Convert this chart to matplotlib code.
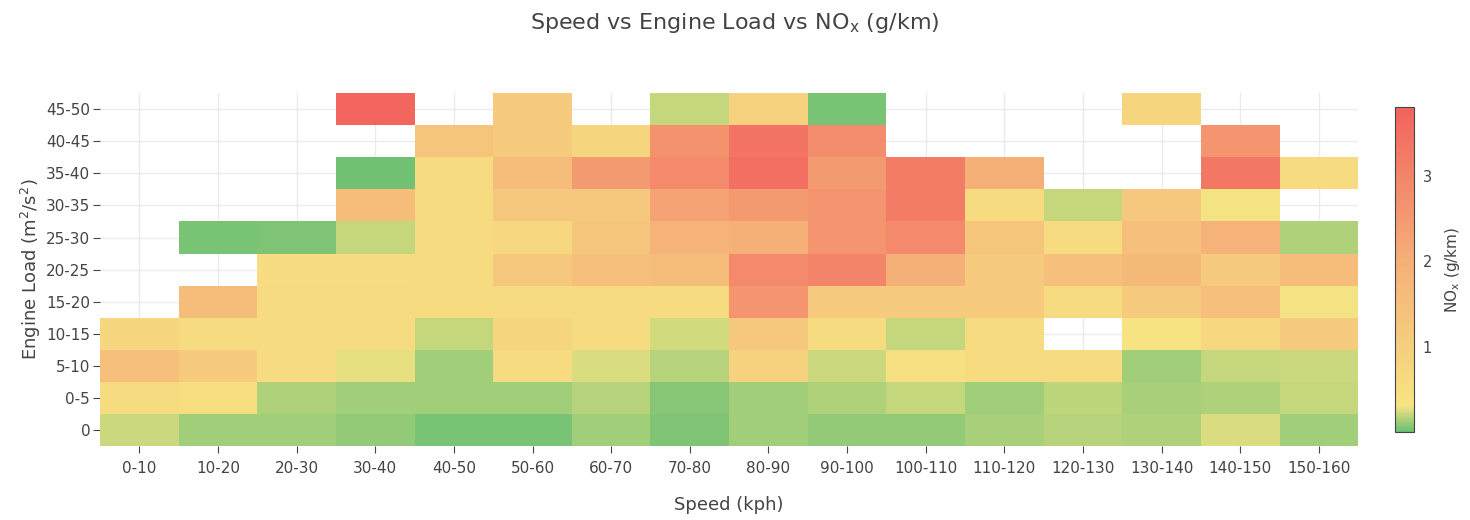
import numpy as np
import matplotlib
matplotlib.use("Agg")
import matplotlib.pyplot as plt
from matplotlib.colors import LinearSegmentedColormap

plt.rcParams['font.family'] = ['DejaVu Sans']

speed_bins = ['0-10', '10-20', '20-30', '30-40', '40-50', '50-60', '60-70', '70-80',
              '80-90', '90-100', '100-110', '110-120', '120-130', '130-140', '140-150', '150-160']
load_bins = ['0', '0-5', '5-10', '10-15', '15-20', '20-25', '25-30', '30-35', '35-40', '40-45', '45-50']

nan = np.nan
# NOx (g/km), one row per engine load bin (bottom to top), one column per speed bin
nox_load_0 = [0.22, 0.12, 0.13, 0.09, 0.04, 0.04, 0.13, 0.05, 0.12, 0.1, 0.1, 0.14, 0.17, 0.16, 0.25, 0.13]
nox_load_0_5 = [0.6, 0.5, 0.15, 0.12, 0.12, 0.12, 0.17, 0.06, 0.12, 0.15, 0.2, 0.12, 0.18, 0.14, 0.15, 0.2]
nox_load_5_10 = [1.5, 1.1, 0.55, 0.27, 0.13, 0.6, 0.25, 0.17, 0.9, 0.22, 0.45, 0.6, 0.6, 0.13, 0.2, 0.22]
nox_load_10_15 = [0.75, 0.6, 0.6, 0.6, 0.2, 0.8, 0.6, 0.23, 1.2, 0.6, 0.2, 0.6, nan, 0.35, 0.7, 1.1]
nox_load_15_20 = [nan, 1.6, 0.6, 0.6, 0.6, 0.6, 0.6, 0.6, 2.6, 1.1, 1.1, 1.1, 0.6, 1.1, 1.5, 0.3]
nox_load_20_25 = [nan, nan, 0.55, 0.55, 0.6, 1.2, 1.5, 1.6, 2.9, 3.0, 2.0, 1.1, 1.5, 1.7, 1.1, 1.6]
nox_load_25_30 = [nan, 0.03, 0.05, 0.2, 0.6, 0.7, 1.3, 1.9, 2.0, 2.6, 2.9, 1.3, 0.6, 1.5, 1.9, 0.15]
nox_load_30_35 = [nan, nan, nan, 1.6, 0.6, 1.2, 1.2, 2.3, 2.5, 2.6, 3.2, 0.6, 0.2, 1.2, 0.3, nan]
nox_load_35_40 = [nan, nan, nan, 0.02, 0.6, 1.6, 2.5, 2.9, 3.5, 2.5, 3.2, 2.0, nan, nan, 3.3, 0.6]
nox_load_40_45 = [nan, nan, nan, nan, 1.3, 1.1, 0.8, 2.7, 3.4, 2.8, nan, nan, nan, nan, 2.6, nan]
nox_load_45_50 = [nan, nan, nan, 3.7, nan, 1.1, nan, 0.2, 0.9, 0.03, nan, nan, nan, 0.8, nan, nan]

nox = np.ma.masked_invalid(np.array([
    nox_load_0, nox_load_0_5, nox_load_5_10, nox_load_10_15, nox_load_15_20, nox_load_20_25,
    nox_load_25_30, nox_load_30_35, nox_load_35_40, nox_load_40_45, nox_load_45_50]))

cmap = LinearSegmentedColormap.from_list('nox', [
    (0.0, '#6abf72'), (0.08, '#f7e482'), (0.53, '#f5af78'), (1.0, '#f2625e')])

fig = plt.figure(figsize=(14.7, 5.2), dpi=100)
ax = fig.add_axes([0.068, 0.142, 0.856, 0.679])
mesh = ax.pcolormesh(np.arange(len(speed_bins) + 1) - 0.5, np.arange(len(load_bins) + 1) - 0.5,
                     nox, cmap=cmap, vmin=0, vmax=3.8)

ax.set_xticks(range(len(speed_bins)))
ax.set_xticklabels(speed_bins)
ax.set_yticks(range(len(load_bins)))
ax.set_yticklabels(load_bins)
ax.set_axisbelow(True)
ax.grid(True, color='#ebebeb', linewidth=1)
for s in ax.spines.values():
    s.set_visible(False)
ax.tick_params(colors='#444444', labelsize=11, length=5, width=0.8, pad=2)
ax.tick_params(axis='x', pad=6)

ax.set_xlabel('Speed (kph)', fontsize=13, color='#444444', labelpad=14)
ax.set_ylabel('Engine Load (m$^2$/s$^2$)', fontsize=13, color='#444444', labelpad=2)
fig.suptitle('Speed vs Engine Load vs NO$_\\mathregular{x}$ (g/km)', fontsize=16, color='#444444', y=0.978)

cax = fig.add_axes([0.949, 0.169, 0.013, 0.625])
cb = fig.colorbar(mesh, cax=cax, ticks=[1, 2, 3])
cb.outline.set_edgecolor('#444444')
cb.outline.set_linewidth(0.8)
cax.tick_params(colors='#444444', labelsize=10.5, length=0, pad=6)
cb.set_label('NO$_\\mathregular{x}$ (g/km)', fontsize=11, color='#444444', labelpad=8)

fig.savefig('out.png', dpi=100, facecolor='white')
